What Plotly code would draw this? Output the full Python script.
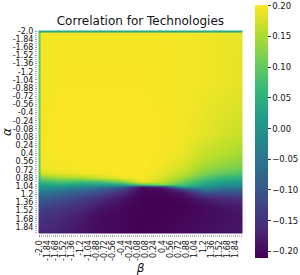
import plotly.graph_objects as go

# beta (x) sample positions and alpha (y) sample positions
beta_values = [-2.0, -1.98, -1.6, -1.2, -0.8, -0.4, 0.0, 0.4, 0.8, 1.2, 1.6, 1.96]
alpha_values = [-2.0, -1.98, -1.0, 0.0, 0.4, 0.6, 0.72, 0.8, 0.88, 0.96,
                1.0, 1.04, 1.08, 1.16, 1.28, 1.44, 1.64, 1.96]

# correlation values, one row per alpha value (columns follow beta_values)
row_a_m200 = [0.04, 0.04, 0.04, 0.04, 0.04, 0.04, 0.04, 0.04, 0.04, 0.04, 0.04, 0.04]
row_a_m198 = [0.10, 0.196, 0.197, 0.197, 0.197, 0.197, 0.197, 0.196, 0.195, 0.193, 0.19, 0.187]
row_a_m100 = [0.10, 0.197, 0.198, 0.198, 0.198, 0.198, 0.198, 0.197, 0.196, 0.193, 0.19, 0.186]
row_a_000 = [0.10, 0.198, 0.199, 0.199, 0.199, 0.2, 0.2, 0.198, 0.195, 0.185, 0.175, 0.167]
row_a_040 = [0.10, 0.198, 0.199, 0.199, 0.2, 0.2, 0.2, 0.197, 0.19, 0.167, 0.155, 0.145]
row_a_060 = [0.10, 0.195, 0.197, 0.199, 0.2, 0.2, 0.2, 0.195, 0.18, 0.15, 0.135, 0.125]
row_a_072 = [0.10, 0.19, 0.194, 0.197, 0.199, 0.2, 0.2, 0.19, 0.17, 0.135, 0.115, 0.105]
row_a_080 = [0.09, 0.17, 0.18, 0.19, 0.195, 0.2, 0.2, 0.185, 0.16, 0.12, 0.095, 0.085]
row_a_088 = [0.07, 0.12, 0.14, 0.15, 0.17, 0.19, 0.2, 0.175, 0.14, 0.09, 0.06, 0.05]
row_a_096 = [0.04, 0.06, 0.08, 0.07, 0.08, 0.12, 0.19, 0.16, 0.11, 0.05, 0.02, 0.01]
row_a_100 = [0.02, 0.03, 0.04, 0.02, 0.02, 0.03, 0.08, 0.12, 0.08, 0.03, 0.0, -0.01]
row_a_104 = [0.0, 0.01, 0.0, -0.02, -0.04, -0.07, -0.19, -0.15, 0.03, 0.0, -0.03, -0.04]
row_a_108 = [-0.02, -0.01, -0.03, -0.05, -0.08, -0.12, -0.205, -0.2, -0.12, -0.04, -0.06, -0.07]
row_a_116 = [-0.05, -0.05, -0.07, -0.09, -0.12, -0.16, -0.205, -0.205, -0.19, -0.11, -0.11, -0.11]
row_a_128 = [-0.09, -0.09, -0.11, -0.13, -0.16, -0.19, -0.21, -0.21, -0.205, -0.18, -0.16, -0.155]
row_a_144 = [-0.12, -0.125, -0.14, -0.16, -0.185, -0.2, -0.21, -0.21, -0.21, -0.2, -0.19, -0.18]
row_a_164 = [-0.145, -0.15, -0.16, -0.18, -0.2, -0.205, -0.21, -0.21, -0.205, -0.2, -0.195, -0.19]
row_a_196 = [-0.16, -0.165, -0.175, -0.19, -0.2, -0.205, -0.21, -0.205, -0.2, -0.195, -0.19, -0.185]

corr_rows = [row_a_m200, row_a_m198, row_a_m100, row_a_000, row_a_040, row_a_060,
             row_a_072, row_a_080, row_a_088, row_a_096, row_a_100, row_a_104,
             row_a_108, row_a_116, row_a_128, row_a_144, row_a_164, row_a_196]

tick_values = [-2.0, -1.84, -1.68, -1.52, -1.36, -1.2, -1.04, -0.88, -0.72, -0.56,
               -0.4, -0.24, -0.08, 0.08, 0.24, 0.4, 0.56, 0.72, 0.88, 1.04,
               1.2, 1.36, 1.52, 1.68, 1.84]
tick_labels = ["-2.0", "-1.84", "-1.68", "-1.52", "-1.36", "-1.2", "-1.04", "-0.88",
               "-0.72", "-0.56", "-0.4", "-0.24", "-0.08", "0.08", "0.24", "0.4",
               "0.56", "0.72", "0.88", "1.04", "1.2", "1.36", "1.52", "1.68", "1.84"]
cbar_ticks = [-0.20, -0.15, -0.10, -0.05, 0.00, 0.05, 0.10, 0.15, 0.20]

FONT = "DejaVu Sans"

fig = go.Figure(go.Heatmap(
    x=beta_values, y=alpha_values, z=corr_rows,
    colorscale="Viridis", zmin=-0.211, zmax=0.201, zsmooth="best",
    colorbar=dict(
        thickness=13, lenmode="pixels", len=253,
        x=1.0585, xanchor="left", xpad=0,
        y=0.502, yanchor="middle", ypad=0,
        outlinewidth=0,
        tickvals=cbar_ticks, tickformat=".2f",
        ticks="outside", ticklen=3, tickwidth=1, tickcolor="#333",
        tickfont=dict(family=FONT, size=8.5, color="#111"),
    ),
))

fig.update_layout(
    width=300, height=275,
    margin=dict(l=38, r=57, t=30, b=41, autoexpand=False),
    paper_bgcolor="white", plot_bgcolor="white",
    title=dict(text="Correlation for Technologies", x=0.468, xanchor="center",
               y=1 - 21 / 275, yanchor="middle", yref="container",
               font=dict(family=FONT, size=12, color="#111")),
    font=dict(family=FONT, color="#111"),
)

minor_ticks = dict(tick0=-2.0, dtick=0.04, ticks="outside", ticklen=2,
                   tickcolor="#bbbbbb", showgrid=False)

fig.update_xaxes(
    range=[-2.02, 1.98], tickmode="array", tickvals=tick_values, ticktext=tick_labels,
    tickangle=-90, tickfont=dict(family=FONT, size=8, color="#111"),
    ticks="outside", ticklen=2, tickcolor="#999", showgrid=False, zeroline=False,
    showline=False, automargin=False, minor=minor_ticks,
    title=dict(text="<i>β</i>", font=dict(family=FONT, size=12, color="#111"), standoff=0),
)
fig.update_yaxes(
    range=[1.98, -2.02], tickmode="array", tickvals=tick_values, ticktext=tick_labels,
    tickfont=dict(family=FONT, size=8, color="#111"),
    ticks="outside", ticklen=2, tickcolor="#999", showgrid=False, zeroline=False,
    showline=False, automargin=False, minor=minor_ticks,
    title=dict(text="<i>α</i>", font=dict(family=FONT, size=12, color="#111"), standoff=4),
)

fig.write_html("out.html", config={"displayModeBar": False},
               post_script="document.body.style.margin='0px';document.body.style.overflow='hidden';")
